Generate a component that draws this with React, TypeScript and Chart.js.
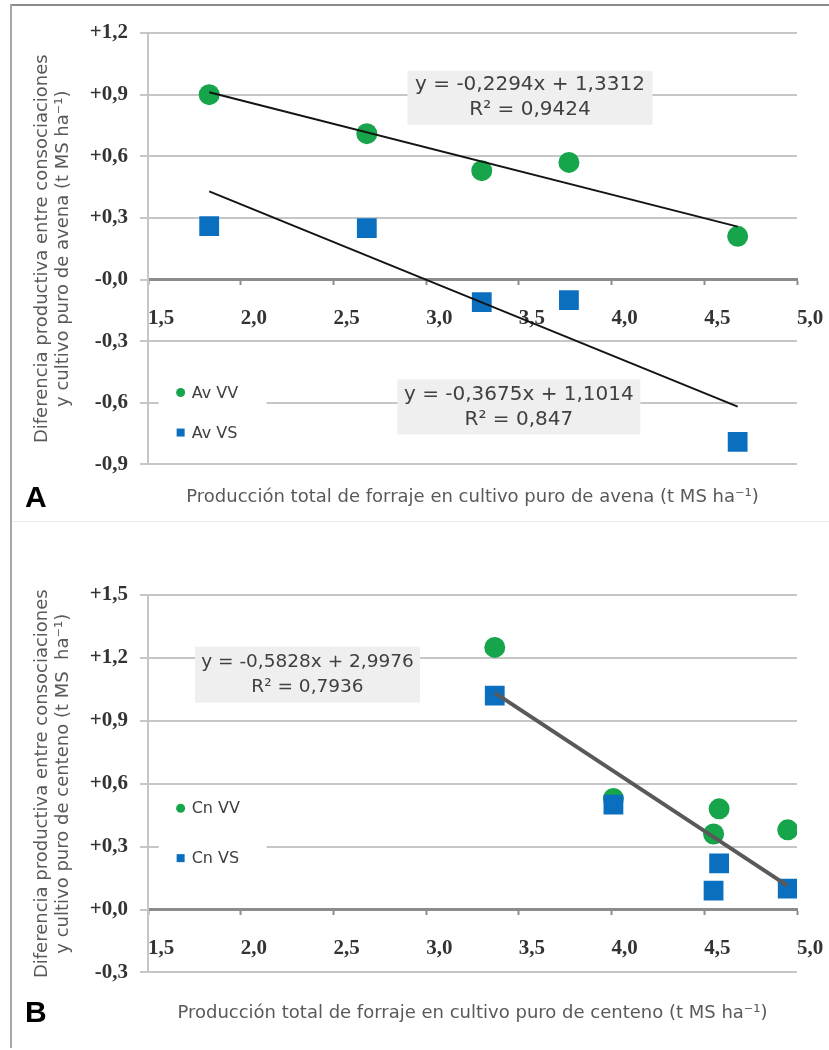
import React, { useEffect, useRef } from 'react';
import { Chart, registerables } from 'chart.js';

Chart.register(...registerables);

// ---- Panel A: avena ----
const avenaProduccion = [1.83, 2.68, 3.30, 3.77, 4.68];
const avenaVV = [0.90, 0.71, 0.53, 0.57, 0.21];
const avenaVS = [0.26, 0.25, -0.11, -0.10, -0.79];
const avenaFitVV = [-0.2294, 1.3312]; // slope, intercept
const avenaFitVS = [-0.3675, 1.1014];
const avenaEqVV = ['y = -0,2294x + 1,3312', 'R² = 0,9424'];
const avenaEqVS = ['y = -0,3675x + 1,1014', 'R² = 0,847'];
const avenaYTicks = [-0.9, -0.6, -0.3, 0, 0.3, 0.6, 0.9, 1.2];
const avenaYTickLabels = ['-0,9', '-0,6', '-0,3', '-0,0', '+0,3', '+0,6', '+0,9', '+1,2'];
const avenaSeriesNames = ['Av VV', 'Av VS'];

// ---- Panel B: centeno ----
const centenoProduccion = [3.37, 4.01, 4.58, 4.55, 4.95];
const centenoVV = [1.25, 0.53, 0.48, 0.36, 0.38];
const centenoVS = [1.02, 0.50, 0.22, 0.09, 0.10];
const centenoFit = [-0.5828, 2.9976];
const centenoEq = ['y = -0,5828x + 2,9976', 'R² = 0,7936'];
const centenoYTicks = [-0.3, 0, 0.3, 0.6, 0.9, 1.2, 1.5];
const centenoYTickLabels = ['-0,3', '+0,0', '+0,3', '+0,6', '+0,9', '+1,2', '+1,5'];
const centenoSeriesNames = ['Cn VV', 'Cn VS'];

// ---- shared x axis ----
const xTicks = [1.5, 2.0, 2.5, 3.0, 3.5, 4.0, 4.5, 5.0];
const xTickLabels = ['1,5', '2,0', '2,5', '3,0', '3,5', '4,0', '4,5', '5,0'];

const GREEN = '#17a54b';
const BLUE = '#0b6fc0';
const GRID = '#c6c6c6';
const TEXT_GRAY = '#595959';
const SANS = "'DejaVu Sans', Verdana, sans-serif";
const SERIF = "'Liberation Serif', 'Times New Roman', serif";

const zip = (xs: number[], ys: number[]) => xs.map((x, i) => ({ x, y: ys[i] }));

const fitLine = (xs: number[], fit: number[]) => {
  const lo = Math.min(...xs);
  const hi = Math.max(...xs);
  return [lo, hi].map((x) => ({ x, y: fit[0] * x + fit[1] }));
};

// Equation boxes and the in-plot legend
const panelNotes = {
  id: 'panelNotes',
  beforeDatasetsDraw(chart: any, _args: any, opts: any) {
    const { ctx } = chart;
    const xs = chart.scales.x;
    const ys = chart.scales.y;
    ctx.save();
    for (const b of opts.boxes || []) {
      const cx = xs.getPixelForValue(b.x);
      const cy = ys.getPixelForValue(b.y);
      ctx.fillStyle = '#efefef';
      ctx.fillRect(cx - b.width / 2, cy - b.height / 2, b.width, b.height);
      ctx.fillStyle = '#404040';
      ctx.font = `${b.fontSize}px ${SANS}`;
      ctx.textAlign = 'center';
      ctx.textBaseline = 'middle';
      const n = b.lines.length;
      b.lines.forEach((t: string, i: number) => {
        ctx.fillText(t, cx, cy + (i - (n - 1) / 2) * b.lineHeight);
      });
    }
    const lg = opts.legend;
    if (lg) {
      const mx = xs.getPixelForValue(lg.x);
      const y1 = ys.getPixelForValue(lg.items[0].y);
      const y2 = ys.getPixelForValue(lg.items[lg.items.length - 1].y);
      ctx.fillStyle = '#ffffff';
      ctx.fillRect(mx - 22, y1 - 20, 108, y2 - y1 + 40);
      ctx.font = `16px ${SANS}`;
      ctx.textAlign = 'left';
      ctx.textBaseline = 'middle';
      for (const it of lg.items) {
        const py = ys.getPixelForValue(it.y);
        ctx.fillStyle = it.color;
        if (it.shape === 'circle') {
          ctx.beginPath();
          ctx.arc(mx, py, 4.5, 0, Math.PI * 2);
          ctx.fill();
        } else {
          ctx.fillRect(mx - 4, py - 4, 8, 8);
        }
        ctx.fillStyle = '#404040';
        ctx.fillText(it.text, mx + 11, py + 1);
      }
    }
    ctx.restore();
  },
};

function buildConfig(p: any) {
  return {
    type: 'scatter',
    data: {
      datasets: [
        ...p.fits.map((d: any) => ({
          data: d,
          showLine: true,
          pointRadius: 0,
          borderColor: p.fitColor,
          borderWidth: p.fitWidth,
          fill: false,
        })),
        {
          data: p.vs,
          pointStyle: 'rect',
          pointRadius: 14,
          backgroundColor: BLUE,
          borderWidth: 0,
        },
        {
          data: p.vv,
          pointStyle: 'circle',
          pointRadius: 10.5,
          backgroundColor: GREEN,
          borderWidth: 0,
        },
      ],
    },
    options: {
      responsive: false,
      animation: false,
      devicePixelRatio: 1,
      events: [],
      layout: { padding: { top: p.padTop, right: 32, bottom: 0, left: 0 } },
      plugins: {
        legend: { display: false },
        tooltip: { enabled: false },
        title: {
          display: true,
          position: 'bottom',
          fullSize: false,
          text: p.xTitle,
          color: TEXT_GRAY,
          font: { family: SANS, size: 18, weight: 'normal', lineHeight: 1.2 },
          padding: p.xTitlePadding,
        },
        panelNotes: { boxes: p.boxes, legend: p.legend },
      },
      scales: {
        x: {
          type: 'linear',
          min: 1.5,
          max: 5.0,
          position: { y: 0 },
          afterFit: (s: any) => {
            s.height = 0;
            s.paddingLeft = 0;
            s.paddingRight = 0;
          },
          afterBuildTicks: (s: any) => {
            s.ticks = xTicks.map((v) => ({ value: v }));
          },
          ticks: {
            align: 'start',
            padding: 22,
            autoSkip: false,
            maxRotation: 0,
            color: '#333333',
            font: { family: SERIF, size: 21, weight: 'bold' },
            callback: (_v: any, i: number) => xTickLabels[i],
          },
          grid: {
            drawOnChartArea: false,
            drawTicks: true,
            tickLength: 4,
            tickColor: '#8c8c8c',
            tickWidth: 2,
          },
          border: { display: true, color: '#8c8c8c', width: 3 },
        },
        y: {
          type: 'linear',
          min: p.yTicks[0],
          max: p.yTicks[p.yTicks.length - 1],
          position: 'left',
          afterFit: (s: any) => {
            s.width = 148;
          },
          afterBuildTicks: (s: any) => {
            s.ticks = p.yTicks.map((v: number) => ({ value: v }));
          },
          ticks: {
            padding: 12,
            color: '#333333',
            font: { family: SERIF, size: 21, weight: 'bold' },
            callback: (_v: any, i: number) => p.yTickLabels[i],
          },
          grid: {
            color: (c: any) => (c.tick && c.tick.value === 0 ? 'rgba(0,0,0,0)' : GRID),
            lineWidth: 2,
            drawTicks: true,
            tickLength: 8,
            tickColor: GRID,
          },
          border: { display: true, color: GRID, width: 2 },
          title: {
            display: true,
            text: p.yTitle,
            color: TEXT_GRAY,
            font: { family: SANS, size: 18, weight: 'normal', lineHeight: 1.15 },
            padding: { top: 32, bottom: 0 },
          },
        },
      },
    },
    plugins: [panelNotes],
  };
}

const configA = buildConfig({
  vv: zip(avenaProduccion, avenaVV),
  vs: zip(avenaProduccion, avenaVS),
  fits: [fitLine(avenaProduccion, avenaFitVV), fitLine(avenaProduccion, avenaFitVS)],
  fitColor: '#141414',
  fitWidth: 2,
  yTicks: avenaYTicks,
  yTickLabels: avenaYTickLabels,
  padTop: 33,
  xTitle: 'Producción total de forraje en cultivo puro de avena (t MS ha⁻¹)',
  xTitlePadding: { top: 22, bottom: 14 },
  yTitle: ['Diferencia productiva entre consociaciones', 'y cultivo puro de avena (t MS ha⁻¹)'],
  boxes: [
    { x: 3.56, y: 0.885, width: 245, height: 54, lines: avenaEqVV, fontSize: 20, lineHeight: 25 },
    { x: 3.50, y: -0.62, width: 243, height: 55, lines: avenaEqVS, fontSize: 20, lineHeight: 25 },
  ],
  legend: {
    x: 1.676,
    items: [
      { y: -0.55, text: avenaSeriesNames[0], color: GREEN, shape: 'circle' },
      { y: -0.745, text: avenaSeriesNames[1], color: BLUE, shape: 'rect' },
    ],
  },
});

const configB = buildConfig({
  vv: zip(centenoProduccion, centenoVV),
  vs: zip(centenoProduccion, centenoVS),
  fits: [fitLine(centenoProduccion, centenoFit)],
  fitColor: '#595959',
  fitWidth: 4,
  yTicks: centenoYTicks,
  yTickLabels: centenoYTickLabels,
  padTop: 73,
  xTitle: 'Producción total de forraje en cultivo puro de centeno (t MS ha⁻¹)',
  xTitlePadding: { top: 30, bottom: 26 },
  yTitle: ['Diferencia productiva entre consociaciones', 'y cultivo puro de centeno (t MS  ha⁻¹)'],
  boxes: [{ x: 2.36, y: 1.12, width: 225, height: 56, lines: centenoEq, fontSize: 18.5, lineHeight: 25 }],
  legend: {
    x: 1.676,
    items: [
      { y: 0.483, text: centenoSeriesNames[0], color: GREEN, shape: 'circle' },
      { y: 0.245, text: centenoSeriesNames[1], color: BLUE, shape: 'rect' },
    ],
  },
});

function Panel({ config, top, height }: { config: any; top: number; height: number }) {
  const ref = useRef<HTMLCanvasElement>(null);
  useEffect(() => {
    const chart = new Chart(ref.current as HTMLCanvasElement, config);
    return () => chart.destroy();
  }, [config]);
  return (
    <canvas
      ref={ref}
      width={829}
      height={height}
      style={{ position: 'absolute', left: 0, top, width: 829, height }}
    />
  );
}

const panelLetter: React.CSSProperties = {
  position: 'absolute',
  left: 25,
  fontFamily: "'Liberation Sans', Arial, sans-serif",
  fontWeight: 'bold',
  fontSize: 30,
  lineHeight: '30px',
  color: '#000',
};

export default function App() {
  return (
    <div
      style={{
        position: 'absolute',
        left: 0,
        top: 0,
        width: 829,
        height: 1050,
        background: '#fff',
        overflow: 'hidden',
      }}
    >
      <div style={{ position: 'absolute', left: 10, top: 4, width: 819, height: 2, background: '#8a8a8a' }} />
      <div style={{ position: 'absolute', left: 10, top: 4, width: 2, height: 1044, background: '#a6a6a6' }} />
      <div style={{ position: 'absolute', left: 12, top: 521, width: 817, height: 1, background: '#ededed' }} />
      <Panel config={configA} top={0} height={522} />
      <Panel config={configB} top={522} height={528} />
      <div style={{ ...panelLetter, top: 482 }}>A</div>
      <div style={{ ...panelLetter, top: 997 }}>B</div>
    </div>
  );
}
